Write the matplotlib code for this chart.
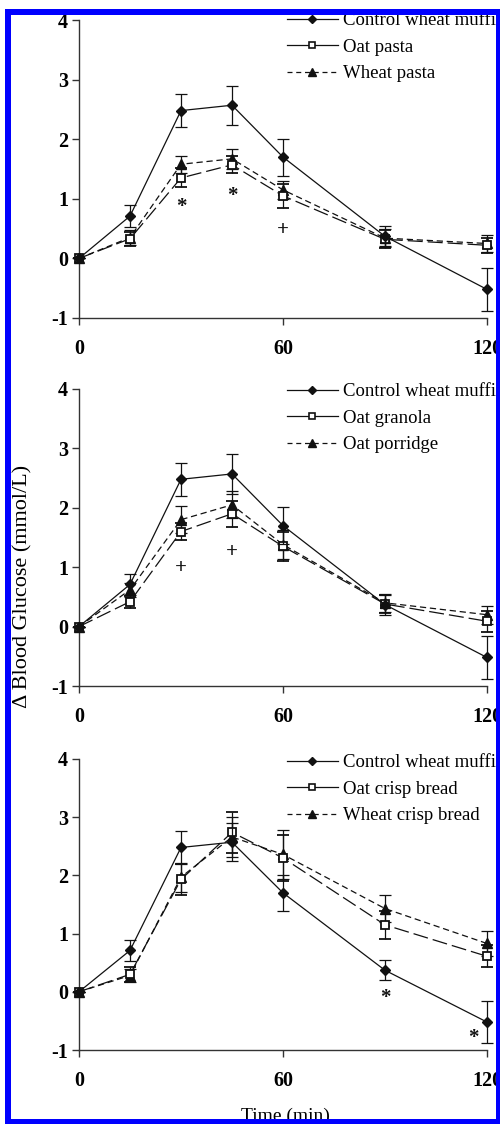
import matplotlib
matplotlib.use("Agg")
import matplotlib.pyplot as plt
from matplotlib.patches import Rectangle
from matplotlib.lines import Line2D

plt.rcParams['font.family'] = ['Liberation Serif', 'DejaVu Serif']

# ---------------- data ----------------
times = [0, 15, 30, 45, 60, 90, 120]

control = [0, 0.71, 2.48, 2.57, 1.70, 0.37, -0.52]
control_err = [0, 0.18, 0.28, 0.33, 0.31, 0.17, 0.36]

oat_pasta = [0, 0.33, 1.35, 1.57, 1.05, 0.32, 0.22]
oat_pasta_err = [0, 0.12, 0.16, 0.14, 0.20, 0.15, 0.13]
wheat_pasta = [0, 0.35, 1.58, 1.67, 1.15, 0.34, 0.25]
wheat_pasta_err = [0, 0.12, 0.14, 0.17, 0.15, 0.15, 0.14]

oat_granola = [0, 0.42, 1.60, 1.90, 1.35, 0.38, 0.09]
oat_granola_err = [0, 0.10, 0.15, 0.22, 0.25, 0.15, 0.18]
oat_porridge = [0, 0.62, 1.80, 2.05, 1.38, 0.40, 0.20]
oat_porridge_err = [0, 0.12, 0.23, 0.23, 0.25, 0.15, 0.15]

oat_crisp = [0, 0.30, 1.93, 2.74, 2.30, 1.15, 0.61]
oat_crisp_err = [0, 0.13, 0.27, 0.35, 0.40, 0.24, 0.19]
wheat_crisp = [0, 0.28, 1.97, 2.66, 2.36, 1.43, 0.83]
wheat_crisp_err = [0, 0.12, 0.25, 0.35, 0.42, 0.23, 0.21]

labels_control = "Control wheat muffin"
labels_p1 = ["Oat pasta", "Wheat pasta"]
labels_p2 = ["Oat granola", "Oat porridge"]
labels_p3 = ["Oat crisp bread", "Wheat crisp bread"]

# significance marks (time, value, symbol)
sig_p1 = [(30, 0.86, '*'), (45, 1.04, '*'), (60, 0.47, '+')]
sig_p2 = [(30, 0.99, '+'), (45, 1.25, '+')]
sig_p3 = [(90, -0.10, '*'), (116, -0.80, '*')]

xticks = [0, 60, 120]
yticks = [-1, 0, 1, 2, 3, 4]

# ---------------- figure ----------------
W, H = 500, 1124
fig = plt.figure(figsize=(W / 100, H / 100), dpi=100)
fig.patch.set_facecolor('white')

def rect(left, right, top, bottom):
    return [left / W, 1 - bottom / H, (right - left) / W, (bottom - top) / H]

panels = [
    dict(box=(79, 487, 20, 318), oat=(oat_pasta, oat_pasta_err), wh=(wheat_pasta, wheat_pasta_err),
         labels=labels_p1, sig=sig_p1, leg_top=12),
    dict(box=(79, 487, 389, 686), oat=(oat_granola, oat_granola_err), wh=(oat_porridge, oat_porridge_err),
         labels=labels_p2, sig=sig_p2, leg_top=383),
    dict(box=(79, 487, 759, 1050), oat=(oat_crisp, oat_crisp_err), wh=(wheat_crisp, wheat_crisp_err),
         labels=labels_p3, sig=sig_p3, leg_top=754),
]

LC = '#111111'
LW = 0.9
axes = []
for i, p in enumerate(panels):
    ax = fig.add_axes(rect(*p['box']))
    axes.append(ax)
    ax.set_xlim(0, 120)
    ax.set_ylim(-1, 4)
    for s in ['top', 'right']:
        ax.spines[s].set_visible(False)
    for s in ['left', 'bottom']:
        ax.spines[s].set_color('#333333')
        ax.spines[s].set_linewidth(1.0)
    ax.set_xticks(xticks)
    ax.set_yticks(yticks)
    ax.tick_params(axis='both', direction='out', length=5, width=1.0, color='#333333',
                   labelsize=14.5)
    ax.tick_params(axis='x', pad=10)
    ax.tick_params(axis='y', pad=3)
    ax.set_xticklabels([str(t) for t in xticks], fontweight='bold')
    ax.set_yticklabels([str(t) for t in yticks], fontweight='bold')

    ov, oe = p['oat']
    wv, we = p['wh']
    eb_kw = dict(ecolor=LC, elinewidth=LW, capsize=4, capthick=LW, clip_on=False)
    ax.errorbar(times, wv, yerr=we, color=LC, lw=LW, ls=(0, (5, 3)), marker='^', ms=7,
                mfc=LC, mec=LC, zorder=3, **eb_kw)
    ax.errorbar(times, ov, yerr=oe, color=LC, lw=LW, ls=(0, (12, 4)), marker='s', ms=5.8,
                mfc='white', mec=LC, mew=1.3, zorder=4, **eb_kw)
    ax.errorbar(times, control, yerr=control_err, color=LC, lw=LW, ls='-', marker='D', ms=4.6,
                mfc=LC, mec=LC, zorder=5, **eb_kw)

    for (t, v, s) in p['sig']:
        ax.text(t, v, s, ha='center', va='center', fontsize=15, fontweight='bold', color=LC)

    handles = [
        Line2D([], [], color=LC, lw=LW, ls='-', marker='D', ms=4, mfc=LC, mec=LC),
        Line2D([], [], color=LC, lw=LW, ls='-', marker='s', ms=5, mfc='white', mec=LC, mew=1.2),
        Line2D([], [], color=LC, lw=LW, ls=(0, (4, 3)), marker='^', ms=6, mfc=LC, mec=LC),
    ]
    leg = ax.legend(handles, [labels_control] + p['labels'], loc='upper left',
                    bbox_to_anchor=(287 / W, 1 - p['leg_top'] / H), bbox_transform=fig.transFigure,
                    frameon=False, fontsize=13.5, handlelength=2.7, handletextpad=0.3,
                    labelspacing=0.5, borderpad=0, borderaxespad=0)

axes[1].set_ylabel("Δ Blood Glucose (mmol/L)", fontsize=16)
axes[1].yaxis.set_label_coords(32 / W, 1 - 586 / H, transform=fig.transFigure)
fig.text(285 / W, 1 - 1116 / H, "Time (min)", ha='center', va='center', fontsize=14)

# blue frame
fig.add_artist(Rectangle((8 / W, 1 - 1122 / H), (499 - 8) / W, (1122 - 12) / H,
                         transform=fig.transFigure, fill=False, edgecolor='#0000ff',
                         linewidth=6 * 0.72, zorder=100))

fig.savefig('out.png', dpi=100)
